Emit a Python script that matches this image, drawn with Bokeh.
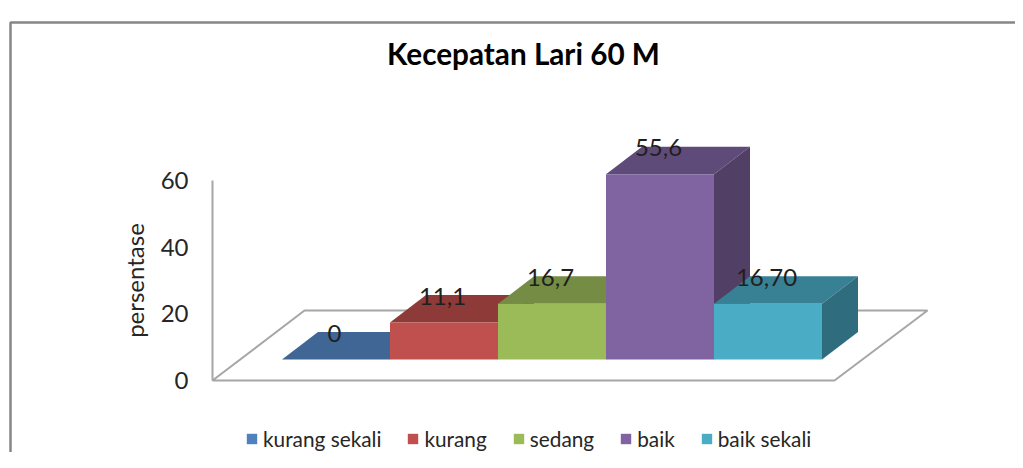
from bokeh.plotting import figure
from bokeh.models import Range1d, LinearAxis, FixedTicker, Legend, LegendItem, Label, ColumnDataSource
from bokeh.core.properties import value
from bokeh.embed import file_html
from bokeh.resources import INLINE

# data
title_text = "Kecepatan Lari 60 M"
categories = ["kurang sekali", "kurang", "sedang", "baik", "baik sekali"]
values = [0, 11.1, 16.7, 55.6, 16.7]
value_labels = ["0", "11,1", "16,7", "55,6", "16,70"]
y_ticks = [0, 20, 40, 60]
y_title = "persentase"
front_colors = ["#4F81BD", "#C0504D", "#9BBB59", "#8064A2", "#4BACC6"]
top_colors = ["#3F6695", "#8E3A38", "#748C43", "#5F4B79", "#388194"]
side_colors = ["#365A82", "#7A3230", "#657A3A", "#523F66", "#2F6C7D"]

FONT = "Lato"
W, H = 1015, 452
PX_X, PX_Y = 108.0, 10 / 3
X0, Y0 = 335.5, 380.0  # canvas pixel of category 0 centre / value 0


def dx(px):
    return (px - X0) / PX_X


def dy(px):
    return (Y0 - px) / PX_Y


p = figure(width=W, height=H, output_backend="svg", toolbar_location=None,
           x_range=Range1d(dx(0), dx(W)), y_range=Range1d(dy(H), dy(0)),
           x_axis_type=None, y_axis_type=None,
           min_border=0, min_border_left=0, min_border_right=0, min_border_top=0, min_border_bottom=0,
           background_fill_color="white", border_fill_color="white", outline_line_color=None)
p.grid.visible = False

# chart border (left and top only)
p.line([dx(10), dx(10), dx(W)], [dy(H), dy(22), dy(22)], line_color="#868686", line_width=2.5)

# floor
p.patch([dx(212), dx(304), dx(927), dx(834)], [dy(380), dy(310), dy(310), dy(380)],
        fill_color="white", line_color="#A6A6A6", line_width=2)

# bars
base = dy(359)
depth_x, depth_y = 36 / PX_X, 27.5 / PX_Y
half = 0.5
items = []
for i, (cat, v) in enumerate(zip(categories, values)):
    l, r = i - half, i + half
    t = base + v
    p.patch([l, r, r + depth_x, l + depth_x], [t, t, t + depth_y, t + depth_y],
            fill_color=top_colors[i], line_color=None)
    if v > 0:
        p.patch([r, r + depth_x, r + depth_x, r], [base, base + depth_y, t + depth_y, t],
                fill_color=side_colors[i], line_color=None)
    front = p.quad(left=[l], right=[r], bottom=[base], top=[t],
                   fill_color=front_colors[i], line_color=None)
    items.append(LegendItem(label=cat, renderers=[front]))

# value labels
src = ColumnDataSource(dict(x=list(range(len(values))),
                            y=[base + v + depth_y for v in values],
                            t=value_labels))
p.text("x", "y", text="t", source=src, text_align="center", text_baseline="middle",
       x_offset=-1.5, y_offset=1,
       text_font=value(FONT), text_font_size="24px", text_color="#1F1F1F")

# y axis at fixed position
ax = LinearAxis(ticker=FixedTicker(ticks=y_ticks), fixed_location=dx(212), bounds=(0, 60),
                axis_label=y_title)
ax.axis_line_color = "#A6A6A6"
ax.axis_line_width = 2
ax.major_tick_line_color = None
ax.minor_tick_line_color = None
ax.major_tick_in = 0
ax.major_tick_out = 0
ax.major_label_standoff = 24
ax.major_label_text_font = FONT
ax.major_label_text_font_size = "24px"
ax.major_label_text_color = "#262626"
ax.axis_label_standoff = 9
ax.axis_label_text_font = FONT
ax.axis_label_text_font_style = "normal"
ax.axis_label_text_font_size = "24px"
ax.axis_label_text_color = "#262626"
p.add_layout(ax, "left")

# title
p.add_layout(Label(x=dx(523), y=dy(53), text=title_text, text_align="center", text_baseline="middle",
                   text_font=FONT, text_font_style="bold", text_font_size="29.7px", text_color="black"))

# legend
legend = Legend(items=items, orientation="horizontal",
                glyph_width=13, glyph_height=13, label_text_font=FONT, label_text_font_size="20.8px",
                label_text_color="#262626", spacing=25, padding=0, margin=0,
                label_standoff=5, border_line_color=None, background_fill_alpha=0)
legend.location = (245, 1)
p.add_layout(legend, "center")

open("out.html", "w").write(file_html(p, INLINE))
